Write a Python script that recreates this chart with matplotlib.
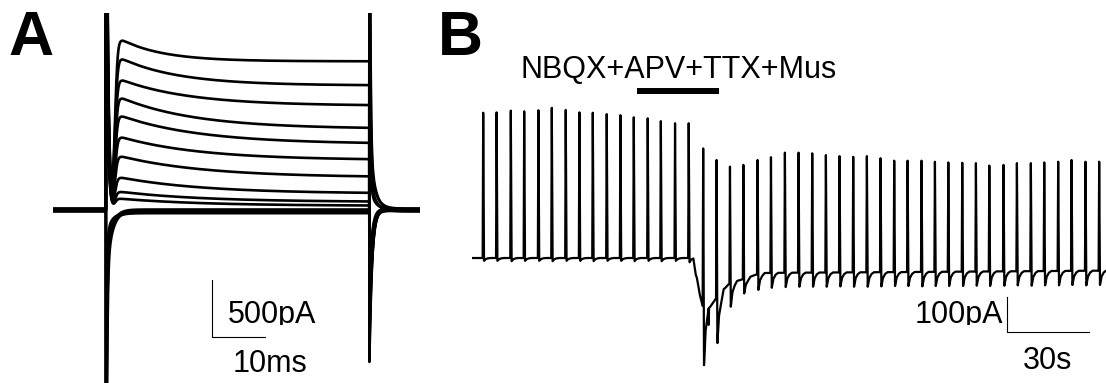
import numpy as np
import matplotlib
matplotlib.use("Agg")
import matplotlib.pyplot as plt
from matplotlib.transforms import Bbox, TransformedBbox

plt.rcParams['font.family'] = ['Liberation Sans', 'DejaVu Sans']

# ---------------- panel A : voltage-step family (time in ms, current in pA)
step_on, step_off = 10.0, 59.7
k_peak_pA = [1491, 1333, 1140, 991, 816, 640, 465, 289, 158, 88]
k_end_pA = [1298, 1096, 912, 719, 570, 439, 281, 149, 70, 26]
k_tau_ms = [8, 11, 13, 14, 15, 15, 16, 16, 16, 16]
depol_cap_on = [5200, 4900, 4600, 4300, 4000, 3700, 3400, 3100, 2800, 2500]
depol_cap_off = [-1333, -1250, -1170, -1090, -1010, -930, -850, -770, -690, -610]
depol_hold = [6, -4, 2, -8, 8, -2, 4, -6, 0, 10]

hyper_step_pA = [0, -8, -16, -24]
hyper_cap = [4000, 3200, 2400, 1600]
hyper_tail = [620, 470, 330, 200]
hyper_hold = [-10, 12, -12, 0]

# ---------------- panel B : holding current over time (s, pA)
spike_t = [4.1, 9.0, 14.2, 19.1, 24.3, 29.2, 34.3, 39.3, 44.2, 49.3, 54.3, 59.2,
           64.3, 69.1, 74.3, 79.3,
           84.6, 89.5, 94.4, 99.3, 104.5, 109.4, 114.5, 119.5, 124.5, 129.5,
           134.5, 139.5, 144.5, 149.5, 154.5, 159.4, 164.5, 169.4, 174.3, 179.4,
           184.4, 189.3, 194.5, 199.4, 204.5, 209.4, 214.5, 219.4, 224.5, 229.5]
spike_peak = [415, 416, 421, 419, 422, 429, 423, 416, 415, 411, 408, 402,
              399, 391, 385, 385,
              313, 280, 261, 266, 280, 288, 301, 301, 299, 294,
              291, 289, 291, 285, 278, 278, 278, 275, 273, 272,
              271, 264, 266, 271, 271, 273, 275, 280, 275, 275]
spike_trough = [-8, -8, -9, -8, -8, -9, -8, -8, -9, -8, -8, -9,
                -8, -9, -8, -12,
                -306, -243, -139, -101, -91, -85, -83, -82, -82, -82,
                -81, -82, -82, -81, -80, -80, -81, -80, -80, -80,
                -79, -80, -79, -78, -79, -78, -78, -77, -78, -77]
base_t = [0, 79.8, 80.9, 82.3, 83.4, 84.5, 86.0, 87.1, 88.9, 90.7, 92.6, 94.4,
          98.1, 101.7, 105.4, 116.0, 160.0, 232.0]
base_pA = [0, 0, -26, -57, -106, -140, -149, -140, -120, -97, -86, -71,
           -63, -54, -43, -42, -40, -36]
glitch_t = [86.6]
glitch_pA = [-191]
drug_label = "NBQX+APV+TTX+Mus"
drug_on, drug_off = 60.4, 90.4

fig = plt.figure(figsize=(11.06, 3.83), dpi=100)

# ---- A
ax_a = fig.add_axes([53 / 1106, 0, 367 / 1106, 370 / 383])
t = np.arange(0, 69.3, 0.02)
on = (t >= step_on) & (t < step_off)
off = t >= step_off
dt = t - step_on
dt2 = t - step_off

for pk, end, tau, c_on, c_off, hold in zip(k_peak_pA, k_end_pA, k_tau_ms,
                                           depol_cap_on, depol_cap_off, depol_hold):
    cur = np.full_like(t, float(hold))
    m = 1 / (1 + np.exp(-(dt[on] - 1.7) / 0.25))
    g = m * np.exp(-dt[on] / tau)
    k = end * m + (pk - end) * g / g.max()
    cur[on] = hold + c_on * np.exp(-dt[on] / 0.3) + k
    cur[off] = hold + (c_off - hold) * np.exp(-dt2[off] / 0.5)
    ax_a.plot(t, cur, color='black', lw=1.9)

for step, cap, tail, hold in zip(hyper_step_pA, hyper_cap, hyper_tail, hyper_hold):
    cur = np.full_like(t, float(hold))
    cur[on] = hold + step - cap * np.exp(-dt[on] / 0.15) - tail * np.exp(-dt[on] / 1.0)
    cur[off] = hold + cap * np.exp(-dt2[off] / 0.15) + tail * np.exp(-dt2[off] / 1.0)
    ax_a.plot(t, cur, color='black', lw=1.9)

ax_a.set_xlim(0, 69.25)
ax_a.set_ylim(-1518, 1728)
ax_a.axis('off')

# descender of the "p" is cut in the original scale-bar labels
cut = TransformedBbox(Bbox([[0, 58 / 383], [1, 1]]), fig.transFigure)

ax_a.plot([30, 30, 40], [-614, -1114, -1114], color='black', lw=0.8, clip_on=False)
lbl = ax_a.text(33.0, -991, "500pA", fontsize=22, va='baseline', ha='left')
lbl.set_clip_box(cut)
lbl.set_clip_on(True)
ax_a.text(33.8, -1421, "10ms", fontsize=22, va='baseline', ha='left', clip_on=False)

# ---- B
ax_b = fig.add_axes([472 / 1106, 0, 634 / 1106, 1])
pts = []
for ti, pk, tr in zip(spike_t, spike_peak, spike_trough):
    b = np.interp(ti, base_t, base_pA)
    pts += [(ti - 0.2, np.interp(ti - 0.2, base_t, base_pA)), (ti, pk),
            (ti + 0.3, tr), (ti + 0.9, b + (tr - b) * 0.4),
            (ti + 1.7, b + (tr - b) * 0.12),
            (ti + 2.6, np.interp(ti + 2.6, base_t, base_pA))]
for gt, gp in zip(glitch_t, glitch_pA):
    pts += [(gt - 0.1, np.interp(gt - 0.1, base_t, base_pA)), (gt, gp),
            (gt + 0.15, np.interp(gt + 0.15, base_t, base_pA))]
for bt, bp in zip(base_t, base_pA):
    if not any(ti - 0.2 <= bt <= ti + 2.6 for ti in spike_t):
        pts.append((bt, bp))
pts.sort()
tb = [p[0] for p in pts]
ib = [p[1] for p in pts]
ax_b.plot(tb, ib, color='black', lw=1.6)

ax_b.set_xlim(0, 232)
ax_b.set_ylim(-357, 737)
ax_b.axis('off')

ax_b.text(17.6, 514, drug_label, fontsize=22, va='baseline', ha='left', clip_on=False)
ax_b.plot([drug_on, drug_off], [477, 477], color='black', lw=4.3,
          solid_capstyle='butt')

ax_b.plot([195.8, 195.8, 225.8], [-111, -211, -211], color='black', lw=0.8,
          clip_on=False)
lbl = ax_b.text(194.3, -186, "100pA", fontsize=22, va='baseline', ha='right')
lbl.set_clip_box(cut)
lbl.set_clip_on(True)
ax_b.text(201.7, -317, "30s", fontsize=22, va='baseline', ha='left', clip_on=False)

fig.text(8 / 1106, 1 - 55 / 383, "A", fontsize=45, fontweight='bold', va='baseline')
fig.text(438 / 1106, 1 - 55 / 383, "B", fontsize=45, fontweight='bold', va='baseline')

fig.savefig("out.png", dpi=100)
